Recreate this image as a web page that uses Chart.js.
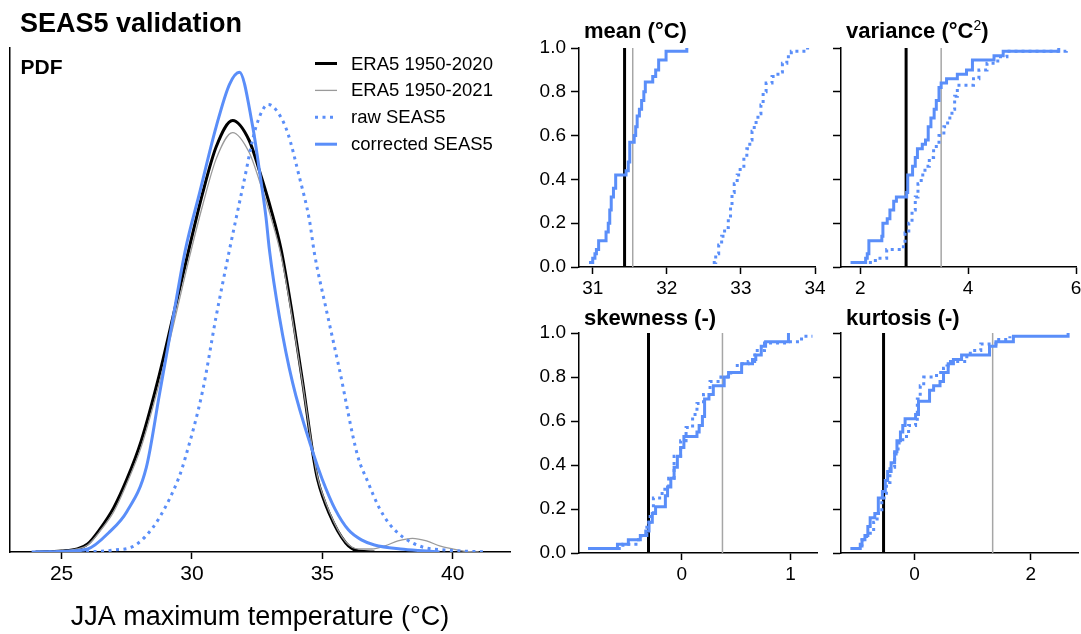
<!DOCTYPE html>
<html>
<head>
<meta charset="utf-8">
<title>SEAS5 validation</title>
<script src="https://cdn.jsdelivr.net/npm/chart.js@4.4.1/dist/chart.umd.min.js"></script>
<style>
  html, body { margin: 0; padding: 0; background: #fff; }
  #wrap { position: relative; width: 1081px; height: 634px; overflow: hidden; }
  canvas { position: absolute; }
</style>
</head>
<body>
<div id="wrap">
  <canvas id="pdf" width="530" height="634" style="left:0;top:0"></canvas>
  <canvas id="mean" width="315" height="300" style="left:520px;top:0"></canvas>
  <canvas id="variance" width="320" height="300" style="left:790px;top:0"></canvas>
  <canvas id="skewness" width="315" height="344" style="left:520px;top:290px"></canvas>
  <canvas id="kurtosis" width="320" height="344" style="left:790px;top:290px"></canvas>
</div>
<script>
// ---- PDF panel: JJA maximum temperature (°C) vs density ----
const era2020T = [24.0, 25.0, 25.6, 26.0, 26.45, 27.0, 27.5, 28.05, 28.75, 29.26, 29.88, 30.41, 30.93, 31.56, 32.2, 32.59, 33.03, 33.42, 33.86, 34.25, 34.66, 34.82, 35.27, 35.9, 36.4, 37.0];
const era2020D = [0, 0.0005, 0.0015, 0.004, 0.011, 0.022, 0.036, 0.055, 0.088, 0.116, 0.150, 0.178, 0.201, 0.214, 0.204, 0.189, 0.170, 0.150, 0.117, 0.084, 0.047, 0.036, 0.019, 0.0045, 0.0005, 0];

const era2021T = [24.0, 25.0, 25.6, 26.0, 26.45, 27.0, 27.5, 28.05, 28.75, 29.26, 29.88, 30.41, 30.93, 31.56, 32.2, 32.59, 33.03, 33.42, 33.86, 34.25, 34.66, 34.82, 35.27, 35.9, 36.4, 36.9, 37.4, 37.9, 38.46, 39.0, 39.5, 40.0, 40.5, 41.0];
const era2021D = [0, 0.0005, 0.0015, 0.0035, 0.010, 0.020, 0.034, 0.052, 0.084, 0.111, 0.145, 0.172, 0.195, 0.208, 0.198, 0.184, 0.166, 0.147, 0.115, 0.083, 0.048, 0.037, 0.020, 0.005, 0.0015, 0.0015, 0.003, 0.0055, 0.0068, 0.0055, 0.003, 0.0015, 0.0003, 0];

const rawT = [24.5, 26.45, 27.0, 27.7, 28.2, 28.75, 29.5, 29.75, 30.41, 30.93, 31.41, 31.95, 32.46, 32.93, 33.3, 33.67, 34.12, 34.5, 34.7, 35.14, 35.65, 36.35, 36.74, 37.18, 37.57, 38.08, 38.84, 39.7, 41.3];
const rawD = [0, 0.0003, 0.001, 0.0025, 0.0075, 0.017, 0.037, 0.047, 0.080, 0.117, 0.148, 0.181, 0.211, 0.222, 0.218, 0.208, 0.186, 0.165, 0.148, 0.121, 0.091, 0.048, 0.035, 0.022, 0.014, 0.0075, 0.0025, 0.001, 0];

const corrT = [23.85, 25.0, 26.0, 26.84, 27.5, 28.25, 28.75, 29.26, 29.75, 30.29, 30.93, 31.44, 31.82, 32.33, 32.59, 32.84, 32.97, 33.35, 33.86, 34.65, 35.0, 35.5, 36.0, 36.5, 37.0, 38.0, 39.0, 39.5];
const corrD = [0, 0.0003, 0.0015, 0.010, 0.020, 0.042, 0.078, 0.115, 0.150, 0.178, 0.211, 0.232, 0.238, 0.211, 0.189, 0.166, 0.150, 0.117, 0.084, 0.049, 0.036, 0.021, 0.011, 0.006, 0.0035, 0.0015, 0.0005, 0];

const pdfTicks = [25, 30, 35, 40];

// ---- ECDF panels: sorted ensemble statistic and cumulative probability ----
const meanCorrX = [30.95, 31.00, 31.03, 31.05, 31.08, 31.18, 31.21, 31.23, 31.25, 31.28, 31.31, 31.45, 31.48, 31.50, 31.56, 31.58, 31.60, 31.63, 31.66, 31.69, 31.71, 31.81, 31.85, 31.89, 31.99, 32.27];
const meanCorrP = [0.02, 0.04, 0.06, 0.08, 0.12, 0.16, 0.20, 0.26, 0.32, 0.36, 0.42, 0.44, 0.48, 0.57, 0.60, 0.64, 0.69, 0.72, 0.76, 0.80, 0.845, 0.87, 0.90, 0.945, 0.985, 1.0];
const meanRawX = [32.62, 32.66, 32.70, 32.74, 32.78, 32.83, 32.86, 32.88, 32.91, 32.95, 32.99, 33.04, 33.08, 33.12, 33.15, 33.18, 33.23, 33.27, 33.30, 33.34, 33.42, 33.50, 33.56, 33.62, 33.68, 33.90];
const meanRawP = [0.02, 0.06, 0.10, 0.14, 0.18, 0.22, 0.28, 0.34, 0.38, 0.42, 0.46, 0.50, 0.54, 0.58, 0.62, 0.66, 0.70, 0.74, 0.80, 0.84, 0.87, 0.89, 0.93, 0.96, 0.985, 1.0];
const meanRef = [31.43, 31.54];
const meanTicks = [31, 32, 33, 34];

const varCorrX = [1.82, 2.10, 2.13, 2.16, 2.40, 2.42, 2.50, 2.55, 2.62, 2.67, 2.86, 2.88, 2.97, 3.02, 3.06, 3.15, 3.21, 3.26, 3.31, 3.37, 3.41, 3.46, 3.50, 3.60, 3.80, 3.97, 4.08, 4.48, 4.65, 5.68];
const varCorrP = [0.02, 0.04, 0.06, 0.12, 0.14, 0.20, 0.22, 0.26, 0.30, 0.32, 0.34, 0.42, 0.46, 0.50, 0.54, 0.56, 0.58, 0.64, 0.68, 0.72, 0.76, 0.82, 0.84, 0.86, 0.88, 0.90, 0.945, 0.965, 0.985, 1.0];
const varRawX = [2.03, 2.28, 2.49, 2.80, 2.83, 2.90, 2.96, 3.02, 3.07, 3.13, 3.20, 3.28, 3.36, 3.46, 3.55, 3.62, 3.70, 3.75, 3.80, 4.10, 4.20, 4.35, 4.55, 4.72, 5.82];
const varRawP = [0.02, 0.04, 0.08, 0.10, 0.155, 0.20, 0.26, 0.32, 0.38, 0.42, 0.46, 0.50, 0.55, 0.60, 0.64, 0.68, 0.72, 0.78, 0.83, 0.86, 0.90, 0.93, 0.96, 0.985, 1.0];
const varRef = [2.85, 3.50];
const varTicks = [2, 4, 6];

const skewCorrX = [-0.86, -0.59, -0.49, -0.38, -0.33, -0.30, -0.27, -0.24, -0.15, -0.13, -0.10, -0.07, -0.04, -0.01, 0.02, 0.14, 0.16, 0.19, 0.21, 0.25, 0.29, 0.39, 0.43, 0.55, 0.65, 0.68, 0.73, 0.77, 0.98];
const skewCorrP = [0.02, 0.04, 0.06, 0.08, 0.10, 0.14, 0.18, 0.21, 0.26, 0.30, 0.34, 0.39, 0.44, 0.48, 0.53, 0.55, 0.58, 0.62, 0.70, 0.72, 0.76, 0.80, 0.82, 0.86, 0.88, 0.90, 0.94, 0.96, 1.0];
const skewRawX = [-0.78, -0.54, -0.42, -0.37, -0.32, -0.29, -0.26, -0.18, -0.12, -0.07, -0.01, 0.04, 0.10, 0.14, 0.20, 0.26, 0.36, 0.45, 0.51, 0.61, 0.67, 0.76, 0.98, 1.10, 1.20];
const skewRawP = [0.02, 0.04, 0.06, 0.08, 0.14, 0.18, 0.25, 0.29, 0.34, 0.44, 0.51, 0.57, 0.63, 0.68, 0.72, 0.78, 0.80, 0.82, 0.86, 0.87, 0.92, 0.955, 0.96, 0.985, 0.985];
const skewRef = [-0.305, 0.374];
const skewTicks = [0, 1];

const kurtCorrX = [-1.10, -0.93, -0.90, -0.85, -0.80, -0.76, -0.68, -0.62, -0.55, -0.50, -0.46, -0.40, -0.34, -0.30, -0.24, -0.20, -0.16, 0.02, 0.07, 0.26, 0.33, 0.44, 0.50, 0.58, 0.67, 0.81, 1.29, 1.40, 1.70, 2.64];
const kurtCorrP = [0.02, 0.04, 0.06, 0.08, 0.12, 0.16, 0.18, 0.25, 0.28, 0.33, 0.37, 0.41, 0.46, 0.51, 0.55, 0.58, 0.61, 0.63, 0.69, 0.74, 0.76, 0.78, 0.82, 0.86, 0.88, 0.90, 0.94, 0.96, 0.985, 1.0];
const kurtRawX = [-1.00, -0.90, -0.82, -0.70, -0.64, -0.56, -0.48, -0.42, -0.34, -0.28, -0.20, -0.10, 0.02, 0.05, 0.10, 0.16, 0.38, 0.50, 0.56, 0.62, 0.90, 0.96, 1.14, 1.40, 1.64];
const kurtRawP = [0.02, 0.06, 0.09, 0.14, 0.18, 0.25, 0.32, 0.39, 0.45, 0.50, 0.53, 0.58, 0.60, 0.70, 0.76, 0.80, 0.82, 0.84, 0.85, 0.87, 0.90, 0.92, 0.95, 0.97, 0.985];
const kurtRef = [-0.53, 1.344];
const kurtTicks = [0, 2];

const probTicks = [0, 0.2, 0.4, 0.6, 0.8, 1.0];

const BLUE = '#5a8ef9';
const GREY = '#9a9a9a';
const FONT = "'Liberation Sans', Arial, sans-serif";

Chart.defaults.font.family = FONT;
Chart.defaults.color = '#000';
Chart.defaults.animation = false;
Chart.defaults.elements.point.radius = 0;

const pts = (xs, ys) => xs.map((x, i) => ({x: x, y: ys[i]}));
const vline = v => [{x: v, y: 0}, {x: v, y: 1}];

// draws free text relative to the chart area (titles, panel labels)
const panelText = {
  id: 'panelText',
  afterDraw(chart, args, opts) {
    const {ctx, chartArea} = chart;
    (opts.items || []).forEach(it => {
      let x = chartArea.left + it.dx;
      const y = chartArea.top + it.dy;
      ctx.save();
      ctx.fillStyle = '#000';
      ctx.textBaseline = 'alphabetic';
      it.parts.forEach(p => {
        ctx.font = p.font;
        ctx.fillText(p.text, x, y - (p.rise || 0));
        x += ctx.measureText(p.text).width;
      });
      ctx.restore();
    });
  }
};

// line legend drawn inside the plot from the labelled datasets
const lineLegend = {
  id: 'lineLegend',
  afterDraw(chart, args, opts) {
    if (!opts.display) return;
    const {ctx, chartArea} = chart;
    const items = chart.data.datasets.filter(d => d.label);
    items.forEach((d, i) => {
      const x = chartArea.left + opts.dx;
      const y = chartArea.top + opts.dy + i * opts.rowGap;
      ctx.save();
      ctx.strokeStyle = d.borderColor;
      ctx.lineWidth = d.borderWidth;
      ctx.setLineDash(d.borderDash || []);
      ctx.beginPath();
      ctx.moveTo(x, y);
      ctx.lineTo(x + opts.lineLen, y);
      ctx.stroke();
      ctx.setLineDash([]);
      ctx.fillStyle = '#000';
      ctx.font = opts.font;
      ctx.textBaseline = 'middle';
      ctx.fillText(d.label, x + opts.lineLen + opts.gap, y + 1);
      ctx.restore();
    });
  }
};

function xAxis(min, max, ticks, height, fontSize, pad, title) {
  return {
    type: 'linear', min: min, max: max,
    afterBuildTicks: s => { s.ticks = ticks.map(v => ({value: v})); },
    afterFit: s => { s.height = height; },
    grid: {display: true, drawOnChartArea: false, drawTicks: true, tickLength: 7, tickWidth: 1.5, tickColor: '#000'},
    border: {display: true, color: '#000', width: 1.5},
    ticks: {font: {size: fontSize, lineHeight: 1}, padding: pad, maxRotation: 0, autoSkip: false},
    title: title || {display: false}
  };
}

function yProb(width, showLabels) {
  return {
    type: 'linear', min: 0, max: 1,
    afterBuildTicks: s => { s.ticks = probTicks.map(v => ({value: v})); },
    afterFit: s => { s.width = width; },
    grid: {display: true, drawOnChartArea: false, drawTicks: true, tickLength: 8, tickWidth: 1.5, tickColor: '#000'},
    border: {display: true, color: '#000', width: 1.5},
    ticks: {display: showLabels, font: {size: 19}, padding: 5, callback: v => v.toFixed(1)}
  };
}

// ---- left: PDF ----
new Chart(document.getElementById('pdf'), {
  type: 'line',
  data: {
    datasets: [
      {label: 'ERA5 1950-2020', data: pts(era2020T, era2020D), borderColor: '#000', borderWidth: 3, order: 4},
      {label: 'ERA5 1950-2021', data: pts(era2021T, era2021D), borderColor: GREY, borderWidth: 1.3, order: 3},
      {label: 'raw SEAS5', data: pts(rawT, rawD), borderColor: BLUE, borderWidth: 3, borderDash: [3, 4.5], order: 2},
      {label: 'corrected SEAS5', data: pts(corrT, corrD), borderColor: BLUE, borderWidth: 3, order: 1}
    ]
  },
  options: {
    responsive: false,
    layout: {padding: {left: 0, top: 48, right: 20, bottom: 0}},
    elements: {line: {cubicInterpolationMode: 'monotone'}},
    scales: {
      x: xAxis(23.02, 42.2, pdfTicks, 82, 21, 5, {
        display: true, text: 'JJA maximum temperature (°C)',
        font: {size: 27}, padding: {top: 0, bottom: 0}
      }),
      y: {
        type: 'linear', min: 0, max: 0.25,
        afterFit: s => { s.width = 10; },
        grid: {display: false},
        border: {display: true, color: '#000', width: 1.5},
        ticks: {display: false}
      }
    },
    plugins: {
      legend: {display: false},
      tooltip: {enabled: false},
      lineLegend: {display: true, dx: 305, dy: 15.5, rowGap: 26.9, lineLen: 22, gap: 14, font: '18.5px ' + FONT},
      panelText: {items: [
        {dx: 10, dy: -16, parts: [{text: 'SEAS5 validation', font: 'bold 27px ' + FONT}]},
        {dx: 10.5, dy: 26, parts: [{text: 'PDF', font: 'bold 21px ' + FONT}]}
      ]}
    }
  },
  plugins: [lineLegend, panelText]
});

// ---- right: ECDF panels ----
function ecdfPanel(id, c) {
  new Chart(document.getElementById(id), {
    type: 'line',
    data: {
      datasets: [
        {data: pts(c.corrX, c.corrP), borderColor: BLUE, borderWidth: 3, stepped: true, order: 1},
        {data: pts(c.rawX, c.rawP), borderColor: BLUE, borderWidth: 3, borderDash: [3, 4], stepped: true, order: 2},
        {data: vline(c.ref[0]), borderColor: '#000', borderWidth: 3, order: 3},
        {data: vline(c.ref[1]), borderColor: '#a6a6a6', borderWidth: 1.5, order: 4}
      ]
    },
    options: {
      responsive: false,
      clip: false,
      layout: {padding: {left: 0, top: c.top, right: c.right, bottom: 0}},
      scales: {
        x: xAxis(c.xmin, c.xmax, c.ticks, c.xh, 19, 5),
        y: yProb(c.yw, c.labels)
      },
      plugins: {
        legend: {display: false},
        tooltip: {enabled: false},
        panelText: {items: [{dx: 5, dy: c.titleDy, parts: c.title}]}
      }
    },
    plugins: [panelText]
  });
}

const TB = 'bold 22px ' + FONT;

ecdfPanel('mean', {
  corrX: meanCorrX, corrP: meanCorrP, rawX: meanRawX, rawP: meanRawP, ref: meanRef,
  xmin: 30.815, xmax: 34.0, ticks: meanTicks,
  top: 48, right: 20, xh: 33, yw: 59, labels: true, titleDy: -10,
  title: [{text: 'mean (°C)', font: TB}]
});

ecdfPanel('variance', {
  corrX: varCorrX, corrP: varCorrP, rawX: varRawX, rawP: varRawP, ref: varRef,
  xmin: 1.643, xmax: 6.0, ticks: varTicks,
  top: 48, right: 34, xh: 33, yw: 51, labels: false, titleDy: -10,
  title: [{text: 'variance (°C', font: TB}, {text: '2', font: '14px ' + FONT, rise: 8}, {text: ')', font: TB}]
});

ecdfPanel('skewness', {
  corrX: skewCorrX, corrP: skewCorrP, rawX: skewRawX, rawP: skewRawP, ref: skewRef,
  xmin: -0.943, xmax: 1.242, ticks: skewTicks,
  top: 43, right: 18, xh: 81, yw: 59, labels: true, titleDy: -8,
  title: [{text: 'skewness (-)', font: TB}]
});

ecdfPanel('kurtosis', {
  corrX: kurtCorrX, corrP: kurtCorrP, rawX: kurtRawX, rawP: kurtRawP, ref: kurtRef,
  xmin: -1.261, xmax: 2.81, ticks: kurtTicks,
  top: 43, right: 32, xh: 81, yw: 51, labels: false, titleDy: -8,
  title: [{text: 'kurtosis (-)', font: TB}]
});
</script>
</body>
</html>
